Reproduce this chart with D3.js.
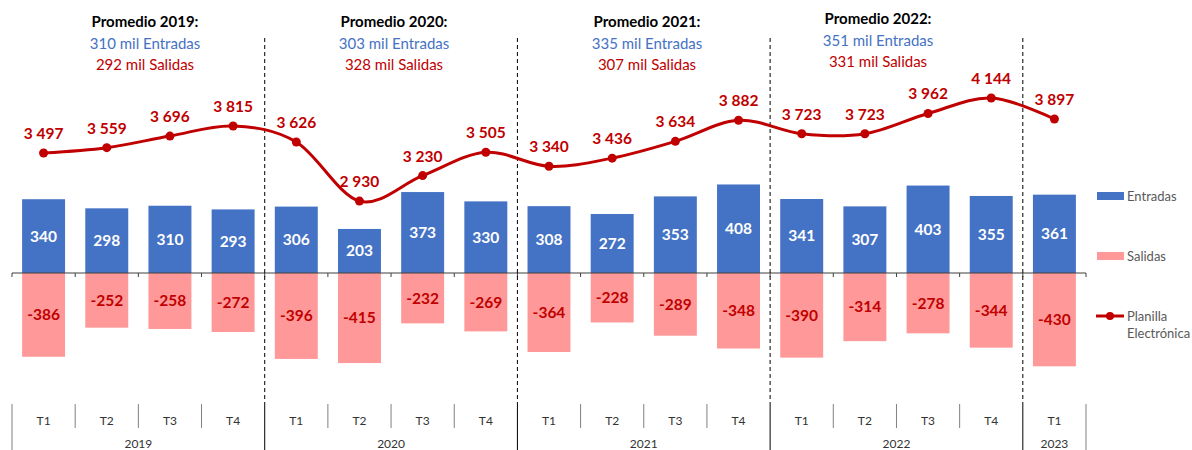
<!DOCTYPE html>
<html><head><meta charset="utf-8">
<script src="https://cdn.jsdelivr.net/npm/d3@7"></script>
<style>body{margin:0;background:#fff;} svg{display:block;font-family:Lato,"Open Sans",sans-serif;}</style>
</head><body>
<svg id="c" width="1192" height="450"></svg>
<script>
const quarters = ["T1","T2","T3","T4","T1","T2","T3","T4","T1","T2","T3","T4","T1","T2","T3","T4","T1"];
const years = ["2019","2020","2021","2022","2023"];
const yearSpans = [4,4,4,4,1];
const entradas = [340,298,310,293,306,203,373,330,308,272,353,408,341,307,403,355,361];
const salidas = [-386,-252,-258,-272,-396,-415,-232,-269,-364,-228,-289,-348,-390,-314,-278,-344,-430];
const planilla = [3497,3559,3696,3815,3626,2930,3230,3505,3340,3436,3634,3882,3723,3723,3962,4144,3897];
const promTitles = ["Promedio 2019:","Promedio 2020:","Promedio 2021:","Promedio 2022:"];
const promEntradas = ["310 mil Entradas","303 mil Entradas","335 mil Entradas","351 mil Entradas"];
const promSalidas = ["292 mil Salidas","328 mil Salidas","307 mil Salidas","331 mil Salidas"];
const legendLabels = ["Entradas","Salidas","Planilla Electrónica"];

const svg = d3.select("#c");
const blue = "#4472C4", pink = "#FF9999", red = "#C00000";
const fmt = v => d3.format(",")(v).replace(/,/g, " ");

const idx = d3.range(quarters.length);
const x = d3.scaleBand().domain(idx).range([12, 1086]).paddingInner(0.32).paddingOuter(0.16);
const step = x.step();
const bx = i => 12 + i * step;
const y = d3.scaleLinear().domain([-500, 500]).range([273 + 108.5, 273 - 108.5]);
const y2 = d3.scaleLinear().domain([2500, 4500]).range([237.6, 67.8]);

// bars
svg.append("g").selectAll("rect").data(idx).join("rect")
  .attr("x", i => x(i)).attr("width", x.bandwidth())
  .attr("y", i => y(entradas[i])).attr("height", i => y(0) - y(entradas[i]))
  .attr("fill", blue);
svg.append("g").selectAll("rect").data(idx).join("rect")
  .attr("x", i => x(i)).attr("width", x.bandwidth())
  .attr("y", y(0)).attr("height", i => y(salidas[i]) - y(0))
  .attr("fill", pink);

// bar labels
svg.append("g").selectAll("text").data(idx).join("text")
  .attr("x", i => x(i) + x.bandwidth() / 2)
  .attr("y", i => (y(entradas[i]) + y(0)) / 2)
  .attr("dy", "0.35em").attr("text-anchor", "middle")
  .attr("fill", "#fff").attr("font-weight", "bold").attr("font-size", 15.5)
  .text(i => entradas[i]);
svg.append("g").selectAll("text").data(idx).join("text")
  .attr("x", i => x(i) + x.bandwidth() / 2)
  .attr("y", i => (y(salidas[i]) + y(0)) / 2)
  .attr("dy", "0.35em").attr("text-anchor", "middle")
  .attr("fill", red).attr("font-weight", "bold").attr("font-size", 15.5)
  .text(i => salidas[i]);

// zero axis
svg.append("line").attr("x1", 12).attr("x2", 1086).attr("y1", y(0)).attr("y2", y(0))
  .attr("stroke", "#404040").attr("stroke-width", 1.2);
svg.append("g").selectAll("line").data(d3.range(quarters.length + 1)).join("line")
  .attr("x1", i => bx(i)).attr("x2", i => bx(i)).attr("y1", y(0)).attr("y2", y(0) + 4)
  .attr("stroke", "#404040");

// year boundaries
const yearStarts = [0];
yearSpans.forEach((s, k) => yearStarts.push(yearStarts[k] + s));
svg.append("g").selectAll("line").data(yearStarts.slice(1, -1)).join("line")
  .attr("x1", i => bx(i)).attr("x2", i => bx(i)).attr("y1", 38).attr("y2", 404)
  .attr("stroke", "#000").attr("stroke-dasharray", "4,3").attr("stroke-width", 1);

// line
const line = d3.line().x(i => x(i) + x.bandwidth() / 2).y(i => y2(planilla[i])).curve(d3.curveCardinal.tension(0));
svg.append("path").datum(idx).attr("d", line).attr("fill", "none").attr("stroke", red).attr("stroke-width", 3);
svg.append("g").selectAll("circle").data(idx).join("circle")
  .attr("cx", i => x(i) + x.bandwidth() / 2).attr("cy", i => y2(planilla[i])).attr("r", 4.5).attr("fill", red);
svg.append("g").selectAll("text").data(idx).join("text")
  .attr("x", i => x(i) + x.bandwidth() / 2).attr("y", i => y2(planilla[i]) - 14)
  .attr("text-anchor", "middle").attr("fill", red).attr("font-weight", "bold").attr("font-size", 15.5)
  .text(i => fmt(planilla[i]));

// averages annotations
const annX = [145, 394, 647, 878];
const annY = [22, 22, 22, 19];
promTitles.forEach((t, k) => {
  const g = svg.append("g").attr("text-anchor", "middle").attr("font-size", 15);
  g.append("text").attr("x", annX[k]).attr("y", annY[k]).attr("dy", "0.35em").attr("font-weight", "bold").attr("fill", "#000").text(t);
  g.append("text").attr("x", annX[k]).attr("y", annY[k] + 21.5).attr("dy", "0.35em").attr("fill", blue).text(promEntradas[k]);
  g.append("text").attr("x", annX[k]).attr("y", annY[k] + 43).attr("dy", "0.35em").attr("fill", red).text(promSalidas[k]);
});

// category axis at bottom
svg.append("g").selectAll("line").data(d3.range(quarters.length + 1)).join("line")
  .attr("x1", i => bx(i)).attr("x2", i => bx(i)).attr("y1", 404)
  .attr("y2", i => yearStarts.includes(i) ? 450 : 428)
  .attr("stroke", i => (yearStarts.includes(i) && i > 0 && i < quarters.length) ? "#000" : "#808080").attr("stroke-width", 1);
svg.append("g").selectAll("text").data(idx).join("text")
  .attr("x", i => x(i) + x.bandwidth() / 2).attr("y", 421).attr("dy", "0.35em")
  .attr("text-anchor", "middle").attr("font-size", 12).attr("fill", "#333").text(i => quarters[i]);
svg.append("g").selectAll("text").data(years).join("text")
  .attr("x", (d, k) => (bx(yearStarts[k]) + bx(yearStarts[k + 1])) / 2).attr("y", 444).attr("dy", "0.35em")
  .attr("text-anchor", "middle").attr("font-size", 12).attr("fill", "#333").text(d => d);

// legend
const lg = svg.append("g").attr("font-size", 13).attr("fill", "#595959");
lg.append("rect").attr("x", 1097).attr("y", 192).attr("width", 27).attr("height", 8).attr("fill", blue);
lg.append("text").attr("x", 1127).attr("y", 196).attr("dy", "0.35em").text(legendLabels[0]);
lg.append("rect").attr("x", 1097).attr("y", 252).attr("width", 27).attr("height", 8).attr("fill", pink);
lg.append("text").attr("x", 1127).attr("y", 256).attr("dy", "0.35em").text(legendLabels[1]);
lg.append("line").attr("x1", 1096).attr("x2", 1124).attr("y1", 316).attr("y2", 316).attr("stroke", red).attr("stroke-width", 3);
lg.append("circle").attr("cx", 1110).attr("cy", 316).attr("r", 4).attr("fill", red);
const pl = legendLabels[2].split(" ");
lg.append("text").attr("x", 1127).attr("y", 316).attr("dy", "0.35em").text(pl[0]);
lg.append("text").attr("x", 1127).attr("y", 333).attr("dy", "0.35em").text(pl[1]);
</script>
</body></html>
